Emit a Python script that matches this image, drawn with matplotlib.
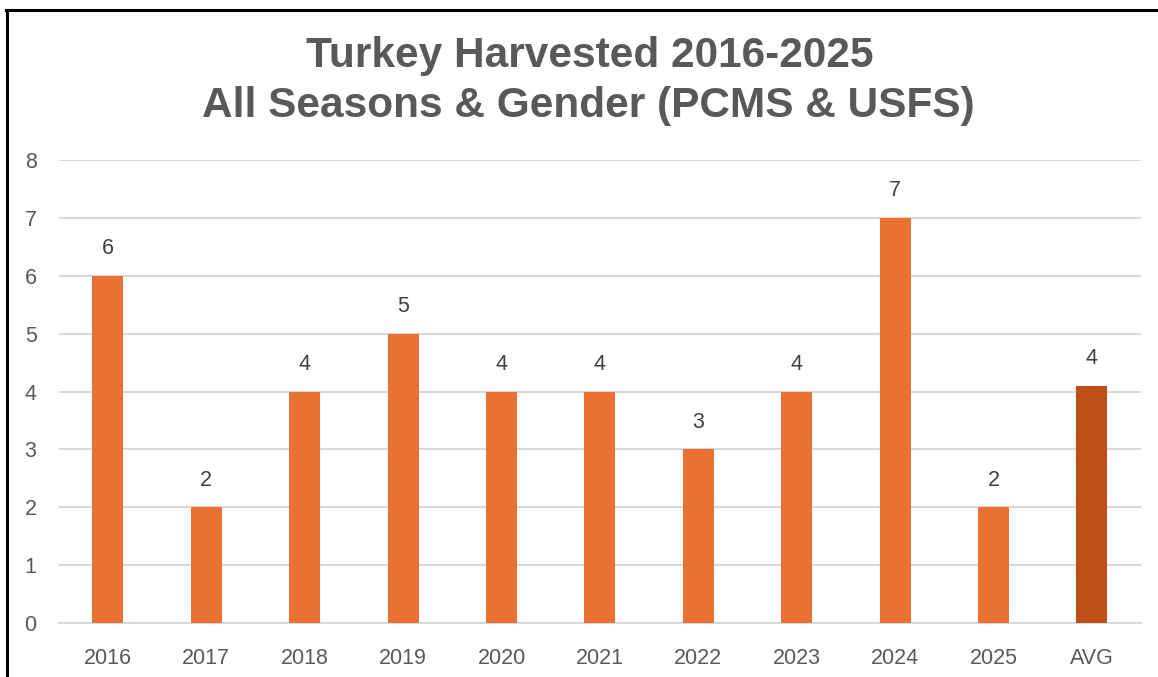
import matplotlib

matplotlib.use("Agg")
import matplotlib.pyplot as plt  # noqa: E402
from matplotlib.lines import Line2D  # noqa: E402

years = ["2016", "2017", "2018", "2019", "2020", "2021", "2022", "2023", "2024", "2025", "AVG"]
harvested = [6, 2, 4, 5, 4, 4, 3, 4, 7, 2, 4.1]
labels = ["6", "2", "4", "5", "4", "4", "3", "4", "7", "2", "4"]
colors = ["#E97132"] * 10 + ["#C04F15"]

plt.rcParams["font.family"] = ["Liberation Sans", "DejaVu Sans"]

W, H = 1158, 677
fig = plt.figure(figsize=(W / 100, H / 100), dpi=100)
ax = fig.add_axes([58.8 / W, 1 - 623 / H, (1141 - 58.8) / W, (623 - 160) / H])

x = range(len(years))
bars = ax.bar(x, harvested, width=0.315, color=colors, zorder=3)
for b, lab in zip(bars, labels):
    ax.annotate(lab, (b.get_x() + b.get_width() / 2, b.get_height()),
                xytext=(0, 12), textcoords="offset points", ha="center", va="bottom",
                fontsize=15.5, color="#404040")

ax.set_xlim(-0.5, len(years) - 0.5)
ax.set_ylim(0, 8)
ax.set_yticks(range(0, 9))
ax.set_xticks(list(x))
ax.set_xticklabels(years)
ax.yaxis.grid(True, color="#D9D9D9", lw=1.5, zorder=0)
ax.tick_params(axis="both", length=0, labelsize=15.5, labelcolor="#595959")
ax.tick_params(axis="x", pad=18)
ax.tick_params(axis="y", pad=16)
for s in ax.spines.values():
    s.set_visible(False)
ax.spines["bottom"].set_visible(True)
ax.spines["bottom"].set_color("#D9D9D9")
ax.spines["bottom"].set_linewidth(1.5)

fig.text(590 / W, 1 - 56 / H, "Turkey Harvested 2016-2025", ha="center", va="center",
         fontsize=30.5, fontweight="bold", color="#595959")
fig.text(588 / W, 1 - 106 / H, "All Seasons & Gender (PCMS & USFS)", ha="center", va="center",
         fontsize=30.5, fontweight="bold", color="#595959")

# frame
fig.add_artist(Line2D([7 / W, 7 / W], [0, 1 - 10 / H], color="black", lw=2.2))
fig.add_artist(Line2D([6 / W, 1], [1 - 10 / H, 1 - 10 / H], color="black", lw=2.2))

fig.savefig("out.png", dpi=100)
